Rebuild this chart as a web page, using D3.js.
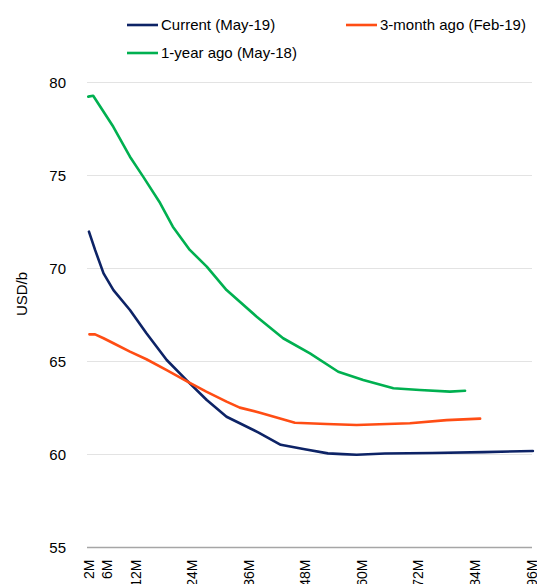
<!DOCTYPE html>
<html>
<head>
<meta charset="utf-8">
<script src="https://cdn.jsdelivr.net/npm/d3@7"></script>
<style>
  html, body { margin: 0; padding: 0; background: #fff; }
  svg { display: block; font-family: "Liberation Sans", Arial, sans-serif; }
</style>
</head>
<body>
<svg id="chart" width="537" height="584"></svg>
<script>
// ---- Data (months ahead, USD/b) ----
const seriesNames = ["Current (May-19)", "3-month ago (Feb-19)", "1-year ago (May-18)"];
const seriesColors = ["#0d2366", "#ff4d14", "#00b050"];

const currentMonths = [2.2, 3.5, 5.3, 7.4, 10.9, 14.4, 18.7, 22.9, 27.2, 31.4, 38.2, 42.9, 48.0, 52.9, 56.0, 59.0, 65.0, 75.0, 86.0, 96.4];
const currentValues = [71.98, 71.0, 69.74, 68.84, 67.77, 66.52, 65.08, 64.0, 62.93, 62.03, 61.18, 60.52, 60.28, 60.06, 60.02, 59.99, 60.05, 60.08, 60.13, 60.19];

const feb19Months = [2.3, 3.5, 5.3, 7.4, 10.9, 14.4, 18.7, 23.2, 27.1, 31.4, 34.2, 38.5, 45.9, 52.6, 59.0, 70.3, 78.1, 85.2];
const feb19Values = [66.46, 66.46, 66.25, 65.98, 65.53, 65.12, 64.54, 63.91, 63.38, 62.84, 62.52, 62.25, 61.71, 61.64, 61.59, 61.68, 61.85, 61.93];

const may18Months = [2.06, 3.1, 7.37, 10.9, 13.7, 17.3, 20.0, 23.6, 27.2, 31.4, 37.8, 43.4, 49.1, 55.1, 60.4, 66.8, 72.4, 78.8, 82.0];
const may18Values = [79.24, 79.29, 77.62, 76.01, 74.94, 73.52, 72.25, 71.0, 70.10, 68.84, 67.41, 66.25, 65.44, 64.45, 64.01, 63.56, 63.47, 63.38, 63.43];

const xTickMonths = [2, 6, 12, 24, 36, 48, 60, 72, 84, 96];
const xTickLabels = ["2M", "6M", "12M", "24M", "36M", "48M", "60M", "72M", "84M", "96M"];
const yTicks = [55, 60, 65, 70, 75, 80];
const yLabel = "USD/b";

// ---- Build ----
const series = [
  { name: seriesNames[0], color: seriesColors[0], pts: currentMonths.map((m, i) => [m, currentValues[i]]) },
  { name: seriesNames[1], color: seriesColors[1], pts: feb19Months.map((m, i) => [m, feb19Values[i]]) },
  { name: seriesNames[2], color: seriesColors[2], pts: may18Months.map((m, i) => [m, may18Values[i]]) }
];

const svg = d3.select("#chart");
const plotLeft = 87, plotRight = 532, plotTop = 82.5, plotBottom = 547.5;

const x = d3.scaleLinear().domain([2, 96]).range([88, 531]);
const y = d3.scaleLinear().domain([55, 80]).range([plotBottom, plotTop]);

// gridlines
svg.append("g")
  .selectAll("line")
  .data(yTicks.filter(t => t !== 55))
  .join("line")
  .attr("x1", plotLeft).attr("x2", plotRight)
  .attr("y1", d => y(d)).attr("y2", d => y(d))
  .attr("stroke", "#e3e3e3").attr("stroke-width", 1);

// y axis labels
const yAxis = d3.axisLeft(y).tickValues(yTicks).tickSize(0).tickPadding(0).tickFormat(d3.format("d"));
const gy = svg.append("g").attr("transform", `translate(66,0)`).call(yAxis);
gy.select(".domain").remove();
gy.selectAll("text").attr("font-size", 15).attr("fill", "#000")
  .attr("font-family", "'Liberation Sans', Arial, sans-serif");

// baseline
svg.append("line")
  .attr("x1", plotLeft).attr("x2", plotRight)
  .attr("y1", y(55)).attr("y2", y(55))
  .attr("stroke", "#a6a6a6").attr("stroke-width", 1.3);

// x axis labels
const xAxis = d3.axisBottom(x).tickValues(xTickMonths).tickSize(0)
  .tickFormat((d, i) => xTickLabels[i]);
const gx = svg.append("g").attr("transform", `translate(0,${plotBottom})`).call(xAxis);
gx.select(".domain").remove();
gx.selectAll("text")
  .attr("font-size", 14).attr("fill", "#000")
  .attr("font-family", "'Liberation Sans', Arial, sans-serif")
  .attr("text-anchor", "end")
  .attr("transform", "translate(0,12) rotate(-90)")
  .attr("x", 0).attr("y", 0).attr("dy", "0.36em");

// y axis title
svg.append("text")
  .attr("transform", `translate(22,294) rotate(-90)`)
  .attr("text-anchor", "middle").attr("dy", "0.36em")
  .attr("font-size", 15).attr("fill", "#000")
  .text(yLabel);

// lines
const line = d3.line().x(d => x(d[0])).y(d => y(d[1])).curve(d3.curveLinear);
svg.append("g").selectAll("path")
  .data(series)
  .join("path")
  .attr("d", d => line(d.pts))
  .attr("fill", "none")
  .attr("stroke", d => d.color)
  .attr("stroke-width", 2.6)
  .attr("stroke-linejoin", "round")
  .attr("stroke-linecap", "round");

// legend
const legendPos = [[127, 25], [346, 25], [127, 53]];
const lg = svg.append("g").selectAll("g").data(series).join("g")
  .attr("transform", (d, i) => `translate(${legendPos[i][0]},${legendPos[i][1]})`);
lg.append("line").attr("x1", 0).attr("x2", 31).attr("y1", 0).attr("y2", 0)
  .attr("stroke", d => d.color).attr("stroke-width", 2.6);
lg.append("text").attr("x", 34).attr("y", 0).attr("dy", "0.36em")
  .attr("font-size", 15).attr("fill", "#000")
  .text(d => d.name);
</script>
</body>
</html>
